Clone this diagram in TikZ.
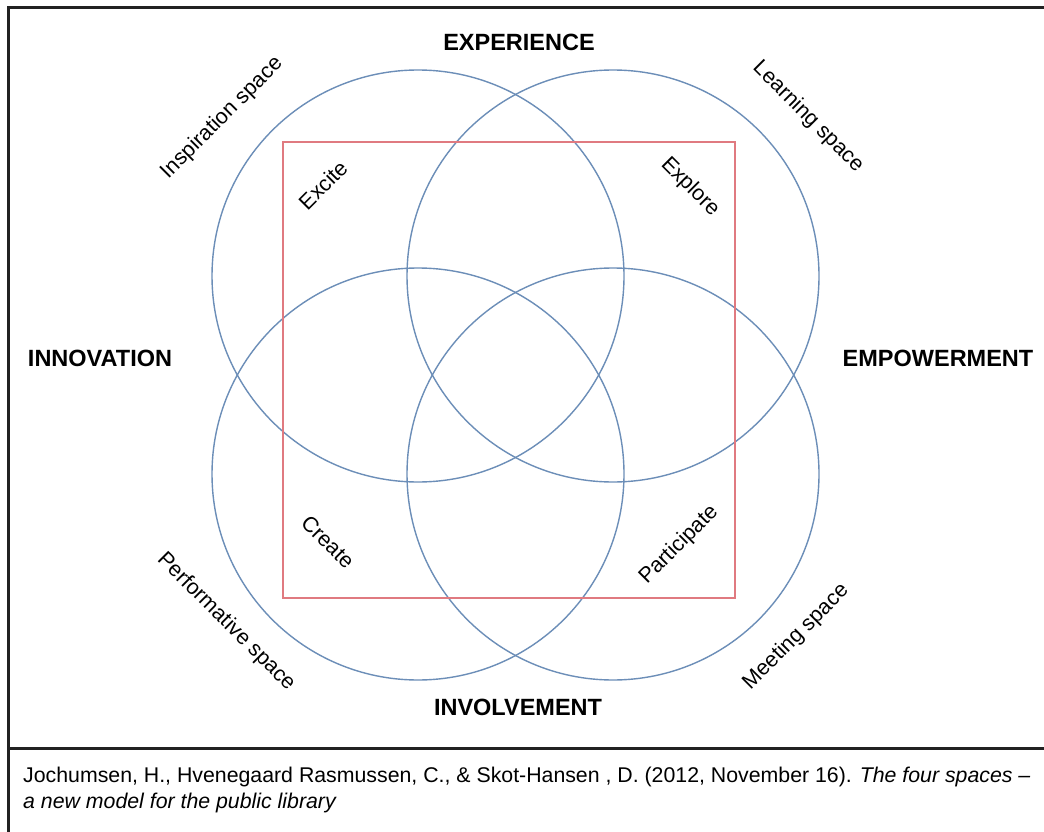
\documentclass[tikz,border=0pt]{standalone}
\usepackage{fontspec}
\setmainfont{Liberation Sans}
\definecolor{circblue}{HTML}{6C8EB8}
\definecolor{rectred}{HTML}{E07A80}
\definecolor{framegray}{HTML}{222222}
\begin{document}
\begin{tikzpicture}[x=1pt,y=-1pt,
  circ/.style={draw=circblue,line width=1.4pt},
  redbox/.style={draw=rectred,line width=1.5pt},
  frameline/.style={draw=framegray,line width=2.6pt},
  bigword/.style={font=\fontsize{23.5}{26}\selectfont\bfseries,inner sep=0pt},
  spacelabel/.style={font=\fontsize{21.5}{24}\selectfont,inner sep=0pt},
  caption/.style={font=\fontsize{21.3}{25.5}\selectfont,inner sep=0pt,anchor=north west,align=left}]
\useasboundingbox (0,0) rectangle (1044,832);
\fill[white] (0,0) rectangle (1044,832);
% frame
\draw[frameline] (8.5,7.5) rectangle (1060,845);
\draw[frameline] (8.5,748.5) -- (1060,748.5);
% circles
\draw[circ] (418,276) circle[radius=206];
\draw[circ] (613,276) circle[radius=206];
\draw[circ] (418,474) circle[radius=206];
\draw[circ] (613,474) circle[radius=206];
% red square
\draw[redbox] (283,142) rectangle (735,598);
% main labels
\node[bigword] (exp) at (519,42) {EXPERIENCE};
\node[bigword] (inn) at (100,358) {INNOVATION};
\node[bigword] (emp) at (938,358) {EMPOWERMENT};
\node[bigword] (inv) at (518,707) {INVOLVEMENT};
% space labels
\node[spacelabel,rotate=45] (insp) at (222,118) {Inspiration space};
\node[spacelabel,rotate=-45] (learn) at (808,117) {Learning space};
\node[spacelabel,rotate=-45] (perf) at (226,622) {Performative space};
\node[spacelabel,rotate=45] (meet) at (796,637) {Meeting space};
\node[spacelabel,rotate=45] (excite) at (323,185) {Excite};
\node[spacelabel,rotate=-45] (explore) at (690,187) {Explore};
\node[spacelabel,rotate=-45] (create) at (328,542) {Create};
\node[spacelabel,rotate=45] (part) at (679,545) {Participate};
% caption
\node[caption] (cap) at (23,767) {Jochumsen, H., Hvenegaard Rasmussen, C., \& Skot-Hansen , D. (2012, November 16). \textit{The four spaces –}\\\textit{a new model for the public library}};
\end{tikzpicture}
\end{document}
